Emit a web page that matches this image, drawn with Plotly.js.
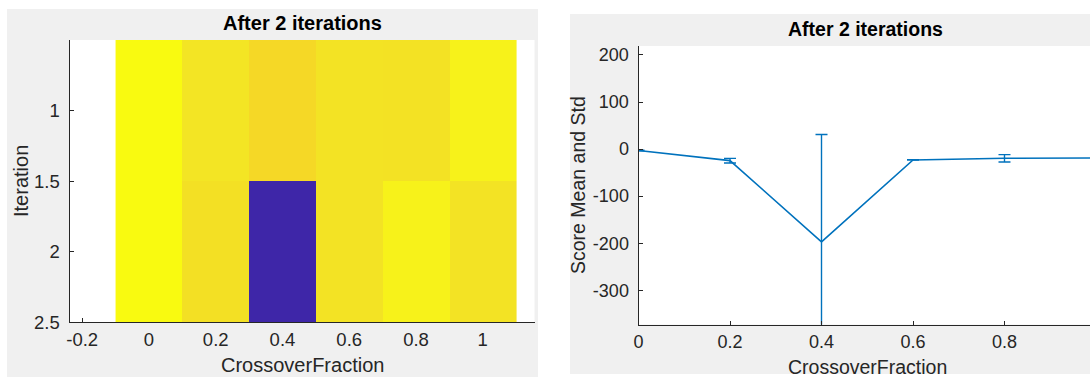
<!DOCTYPE html>
<html>
<head>
<meta charset="utf-8">
<script src="https://cdn.plot.ly/plotly-3.0.1.min.js"></script>
<style>html,body{margin:0;padding:0;background:#fff;}#chart{width:1090px;height:377px;}</style>
</head>
<body>
<div id="chart"></div>
<script>
// ---- data ----
const crossover = [0, 0.2, 0.4, 0.6, 0.8, 1];
const iterations = [1, 2];
const scoreIter1 = [-3, -21, -36, -23, -25, -14];
const scoreIter2 = [-3, -28, -358, -23, -14, -24];
const scoreMean = [-3, -24.5, -197, -23, -19.5, -19];
const scoreStd = [0.5, 4.9, 228, 0.5, 7.8, 7.1];

const leftXTickVals = [-0.2, 0, 0.2, 0.4, 0.6, 0.8, 1];
const leftXTickText = ['-0.2', '0', '0.2', '0.4', '0.6', '0.8', '1'];
const leftYTickVals = [1, 1.5, 2, 2.5];
const leftYTickText = ['1', '1.5', '2', '2.5'];
const rightXTickVals = [0, 0.2, 0.4, 0.6, 0.8, 1];
const rightXTickText = ['0', '0.2', '0.4', '0.6', '0.8', '1'];
const rightYTickVals = [200, 100, 0, -100, -200, -300];
const rightYTickText = ['200', '100', '0', '-100', '-200', '-300'];

const titleText = 'After 2 iterations';
const xLabel = 'CrossoverFraction';
const leftYLabel = 'Iteration';
const rightYLabel = 'Score Mean and Std';

// ---- styling ----
const W = 1090, H = 377;
const px = v => v / W;
const py = v => 1 - v / H;
const axisColor = '#262626';
const fontFam = '"Liberation Sans", Arial, Helvetica, sans-serif';
const lineBlue = '#0072bd';

const parula = [
  [0.0, '#3e26a8'], [0.1, '#4747eb'], [0.2, '#3f70fd'], [0.3, '#279beb'],
  [0.4, '#14b2cf'], [0.5, '#2ec2a3'], [0.6, '#5ecc6e'], [0.7, '#acc639'],
  [0.8, '#ebba3c'], [0.85, '#fcbf3c'], [0.907, '#f5d826'], [0.93, '#f3e024'],
  [0.95, '#f3e524'], [0.97, '#f7f31a'], [1.0, '#f9fa10']
];

const traces = [
  {
    type: 'heatmap',
    x: crossover,
    y: iterations,
    z: [scoreIter1, scoreIter2],
    colorscale: parula,
    showscale: false,
    hoverinfo: 'skip',
    xaxis: 'x', yaxis: 'y'
  },
  {
    type: 'scatter',
    mode: 'lines',
    x: crossover,
    y: scoreMean,
    line: {color: lineBlue, width: 1.6},
    error_y: {type: 'data', array: scoreStd, visible: true, color: lineBlue, thickness: 1.4, width: 6},
    cliponaxis: true,
    hoverinfo: 'skip',
    xaxis: 'x2', yaxis: 'y2'
  }
];

const tickFontL = {family: fontFam, size: 18.5, color: axisColor};
const tickFontR = {family: fontFam, size: 18, color: axisColor};

const baseAxis = {
  showgrid: false, zeroline: false, showline: true, linecolor: axisColor, linewidth: 1,
  ticks: 'inside', ticklen: 4, tickwidth: 1, tickcolor: axisColor,
  tickmode: 'array', fixedrange: true
};

const layout = {
  width: W, height: H,
  margin: {l: 0, r: 0, t: 0, b: 0, pad: 0},
  paper_bgcolor: '#ffffff',
  plot_bgcolor: 'rgba(0,0,0,0)',
  showlegend: false,
  xaxis: Object.assign({}, baseAxis, {
    domain: [px(69.5), px(534.5)], range: [-0.238, 1.155], anchor: 'y',
    tickvals: leftXTickVals, ticktext: leftXTickText, tickfont: tickFontL,
    layer: 'below traces', ticklabelstandoff: 0
  }),
  yaxis: Object.assign({}, baseAxis, {
    domain: [py(322.3), py(40)], range: [2.5, 0.5], anchor: 'x',
    tickvals: leftYTickVals, ticktext: leftYTickText, tickfont: tickFontL,
    layer: 'below traces', ticklabelstandoff: 5
  }),
  xaxis2: Object.assign({}, baseAxis, {
    domain: [px(638.5), 1], range: [0, 0.9869], anchor: 'y2',
    tickvals: rightXTickVals, ticktext: rightXTickText, tickfont: tickFontR,
    ticklabelstandoff: 1
  }),
  yaxis2: Object.assign({}, baseAxis, {
    domain: [py(324.5), py(46)], range: [-372.7, 219.1], anchor: 'x2',
    tickvals: rightYTickVals, ticktext: rightYTickText, tickfont: tickFontR,
    ticklabelstandoff: 5
  }),
  shapes: [
    {type: 'rect', xref: 'paper', yref: 'paper', layer: 'below',
     x0: px(7), x1: px(538), y0: 0, y1: py(9), fillcolor: '#f0f0f0', line: {width: 0}},
    {type: 'rect', xref: 'paper', yref: 'paper', layer: 'below',
     x0: px(570), x1: 1, y0: py(374), y1: py(14), fillcolor: '#f0f0f0', line: {width: 0}},
    {type: 'rect', xref: 'paper', yref: 'paper', layer: 'below',
     x0: px(69.5), x1: px(534.5), y0: py(322.3), y1: py(40), fillcolor: '#ffffff', line: {width: 0}},
    {type: 'rect', xref: 'paper', yref: 'paper', layer: 'below',
     x0: px(638.5), x1: 1, y0: py(324.5), y1: py(46), fillcolor: '#ffffff', line: {width: 0}}
  ],
  annotations: [
    {text: '<b>' + titleText + '</b>', xref: 'paper', yref: 'paper', x: px(302), y: py(23),
     xanchor: 'center', yanchor: 'middle', showarrow: false,
     font: {family: fontFam, size: 20, color: '#000000'}},
    {text: '<b>' + titleText + '</b>', xref: 'paper', yref: 'paper', x: px(865), y: py(29),
     xanchor: 'center', yanchor: 'middle', showarrow: false,
     font: {family: fontFam, size: 19.5, color: '#000000'}},
    {text: xLabel, xref: 'paper', yref: 'paper', x: px(302), y: py(365),
     xanchor: 'center', yanchor: 'middle', showarrow: false,
     font: {family: fontFam, size: 20, color: axisColor}},
    {text: xLabel, xref: 'paper', yref: 'paper', x: px(867), y: py(367),
     xanchor: 'center', yanchor: 'middle', showarrow: false,
     font: {family: fontFam, size: 19.5, color: axisColor}},
    {text: leftYLabel, xref: 'paper', yref: 'paper', x: px(21), y: py(181),
     xanchor: 'center', yanchor: 'middle', showarrow: false, textangle: -90,
     font: {family: fontFam, size: 20, color: axisColor}},
    {text: rightYLabel, xref: 'paper', yref: 'paper', x: px(578), y: py(185),
     xanchor: 'center', yanchor: 'middle', showarrow: false, textangle: -90,
     font: {family: fontFam, size: 19.5, color: axisColor}}
  ]
};

Plotly.newPlot('chart', traces, layout, {staticPlot: true, displayModeBar: false});
</script>
</body>
</html>
